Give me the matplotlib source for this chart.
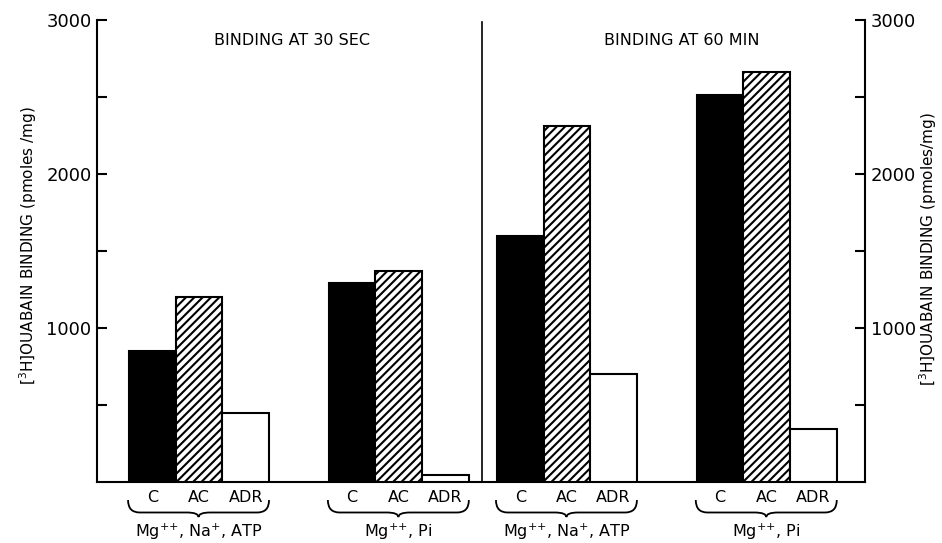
import matplotlib
matplotlib.use("Agg")
import matplotlib.pyplot as plt
import matplotlib.transforms as mtransforms
from matplotlib.path import Path
from matplotlib.patches import PathPatch

# ---------------------------------------------------------------------------
# Data
# ---------------------------------------------------------------------------
PANEL_TITLES = ["BINDING AT 30 SEC", "BINDING AT 60 MIN"]
CONDITIONS = ["C", "AC", "ADR"]
GROUP_LABELS = ["Mg$^{{+}{+}}$, Na$^{+}$, ATP", "Mg$^{{+}{+}}$, Pi",
                "Mg$^{{+}{+}}$, Na$^{+}$, ATP", "Mg$^{{+}{+}}$, Pi"]
C_VALUES = [850, 1290, 1600, 2510]
AC_VALUES = [1200, 1370, 2310, 2660]
ADR_VALUES = [450, 45, 700, 345]
Y_TICKS = [500, 1000, 1500, 2000, 2500, 3000]
Y_LABELED = [1000, 2000, 3000]
YLABEL_LEFT = "[$^{3}$H]OUABAIN BINDING (pmoles /mg)"
YLABEL_RIGHT = "[$^{3}$H]OUABAIN BINDING (pmoles/mg)"

# ---------------------------------------------------------------------------
# Layout
# ---------------------------------------------------------------------------
BAR_W = 1.0
FIRST = 0.685
GROUP_STEP = 4.28
HALF_SHIFT = 0.68
XMAX = 16.45
DIVIDER = 8.25
LW = 1.5

plt.rcParams["font.family"] = ["DejaVu Sans"]
plt.rcParams["hatch.linewidth"] = 1.5

fig = plt.figure(figsize=(9.42, 5.43), dpi=100)
ax = fig.add_axes([97 / 942, 61 / 543, 768 / 942, 462 / 543])

starts = [FIRST + g * GROUP_STEP - (g // 2) * HALF_SHIFT for g in range(4)]
series = [
    (C_VALUES, dict(facecolor="black", edgecolor="black")),
    (AC_VALUES, dict(facecolor="white", edgecolor="black", hatch="////")),
    (ADR_VALUES, dict(facecolor="white", edgecolor="black")),
]
for k, (vals, style) in enumerate(series):
    xs = [s + k * BAR_W for s in starts]
    ax.bar(xs, vals, width=BAR_W, align="edge", linewidth=LW, zorder=3, **style)

ax.set_xlim(0, XMAX)
ax.set_ylim(0, 3000)

ax.spines["top"].set_visible(False)
for side in ["left", "right", "bottom"]:
    ax.spines[side].set_linewidth(LW)

ax.set_xticks([])
ax.set_yticks(Y_TICKS)
ax.set_yticklabels([str(t) if t in Y_LABELED else "" for t in Y_TICKS])
ax.tick_params(axis="y", direction="in", length=7, width=LW, labelsize=13,
               left=True, right=True, labelleft=True, labelright=True, pad=4)

# divider between panels
ax.plot([DIVIDER, DIVIDER], [0, 2990], color="black", lw=1.2, zorder=2)

# panel titles
ax.text(starts[0] + 3.5, 2870, PANEL_TITLES[0], ha="center", va="center", fontsize=11.5)
ax.text(starts[2] + 3.95, 2870, PANEL_TITLES[1], ha="center", va="center", fontsize=11.5)

# bar labels, braces and group labels below the axis
trans = mtransforms.blended_transform_factory(ax.transData, ax.transAxes)
y_top, y_mid, y_bot = -0.039, -0.066, -0.076
r = 0.25
for g, s in enumerate(starts):
    for k, name in enumerate(CONDITIONS):
        ax.text(s + (k + 0.5) * BAR_W, -0.033, name, transform=trans,
                ha="center", va="center", fontsize=11.5)
    x0, x1 = s - 0.02, s + 3 * BAR_W
    xm = (x0 + x1) / 2
    verts = [(x0, y_top), (x0, y_mid), (x0 + r, y_mid),
             (xm - r, y_mid), (xm, y_mid), (xm, y_bot),
             (xm, y_mid), (xm + r, y_mid),
             (x1 - r, y_mid), (x1, y_mid), (x1, y_top)]
    codes = [Path.MOVETO, Path.CURVE3, Path.CURVE3,
             Path.LINETO, Path.CURVE3, Path.CURVE3,
             Path.CURVE3, Path.CURVE3,
             Path.LINETO, Path.CURVE3, Path.CURVE3]
    ax.add_patch(PathPatch(Path(verts, codes), transform=trans, fill=False,
                           lw=1.3, edgecolor="black", clip_on=False))
    ax.text(xm, -0.107, GROUP_LABELS[g], transform=trans,
            ha="center", va="center", fontsize=11.5)

# y labels on both sides
fig.text(28 / 942, 1 - 246 / 543, YLABEL_LEFT, rotation=90,
         ha="center", va="center", fontsize=11)
fig.text(928 / 942, 1 - 249 / 543, YLABEL_RIGHT, rotation=90,
         ha="center", va="center", fontsize=11)

fig.savefig("out.png", dpi=100, facecolor="white")
